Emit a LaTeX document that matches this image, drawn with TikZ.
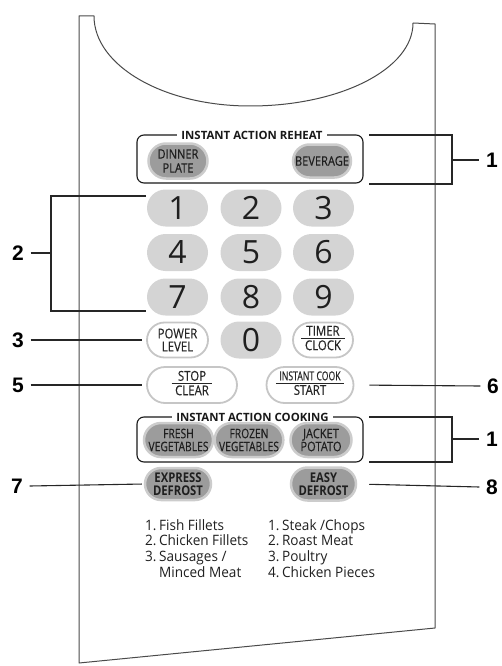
\documentclass[tikz,border=0pt]{standalone}
\usepackage{fontspec}
\setmainfont{Open Sans}
\newfontfamily\btnfont[FakeStretch=0.84,FakeBold=0.35]{Open Sans}
\newfontfamily\vegfont[FakeStretch=0.78,FakeBold=0.35]{Open Sans}
\newfontfamily\narrowfont[FakeStretch=0.7,FakeBold=0.35]{Open Sans}
\newfontfamily\boldbtn[FakeStretch=0.84]{Open Sans}
\newfontfamily\listfont[FakeStretch=0.95]{Open Sans}
\newfontfamily\labfont{Liberation Sans}
\usetikzlibrary{shapes.misc}
\definecolor{keygray}{HTML}{D4D4D4}
\definecolor{darkbtn}{HTML}{9C9C9C}
\definecolor{ringgray}{HTML}{CCCCCC}
\definecolor{whitering}{HTML}{C6C6C6}
\definecolor{outlinegray}{HTML}{4A4A4A}
\newcommand{\twoline}[2]{\begin{tabular}{@{\hspace{3.5pt}}c@{\hspace{3.5pt}}}#1\\[-1.2pt]\hline\rule{0pt}{11pt}#2\end{tabular}}
\setlength{\arrayrulewidth}{0.8pt}
\tikzset{
  numkey/.style={rounded rectangle, fill=keygray, minimum width=61, minimum height=37, inner sep=0pt, text=black!88, font=\fontsize{32}{32}\selectfont},
  whitekey/.style={rounded rectangle, fill=white, draw=whitering, line width=1.8pt, minimum height=35, inner sep=0pt, align=center, text=black!85, font=\btnfont\fontsize{13.6}{13}\selectfont},
  darkkey/.style={rounded rectangle, fill=darkbtn, draw=ringgray, line width=2.5pt, minimum height=33, inner sep=0pt, align=center, text=black!88, font=\btnfont\fontsize{13.2}{13}\selectfont},
  vegkey/.style={darkkey, font=\vegfont\fontsize{13.2}{13}\selectfont},
  boldkey/.style={darkkey, font=\boldbtn\bfseries\fontsize{13.4}{13.2}\selectfont},
  groupbox/.style={draw=black!90, line width=1.1pt, rounded corners=7pt},
  grouptitle/.style={fill=white, inner xsep=4pt, inner ysep=1pt, font=\bfseries\fontsize{11.4}{12}\selectfont, text=black!90},
  callout/.style={inner sep=0pt, inner xsep=6.5pt, font=\labfont\bfseries\fontsize{21}{21}\selectfont},
  conn/.style={draw=black!85, line width=1.1pt},
  listtext/.style={inner sep=0pt, anchor=base west, text=black!88, font=\listfont\fontsize{14.3}{15.7}\selectfont}
}
\begin{document}
\begin{tikzpicture}[x=1pt,y=-1pt]
\useasboundingbox (0,0) rectangle (501,666);
% panel outline
\draw[outlinegray, line width=1pt, line join=round] (79,16) -- (94,16)
  .. controls (94,66) and (164,106) .. (250,106)
  .. controls (340,106) and (413,69) .. (413,23)
  -- (435,24) -- (435,628) -- (79,663) -- cycle;

% instant action reheat
\draw[groupbox] (137,135) rectangle (363,183);
\node[grouptitle] (ttl1) at (252,135) {INSTANT ACTION REHEAT};
\node[darkkey, minimum width=59, minimum height=35, font=\btnfont\fontsize{13.2}{14}\selectfont] (dinner) at (178,161) {DINNER\\PLATE};
\node[darkkey, minimum width=58] (bev) at (322,161) {BEVERAGE};

% number keys
\node[numkey] (k1) at (177.5,208) {1};
\node[numkey] (k2) at (251,208) {2};
\node[numkey] (k3) at (323.5,208) {3};
\node[numkey] (k4) at (177.5,252.5) {4};
\node[numkey] (k5) at (251,252.5) {5};
\node[numkey] (k6) at (323.5,252.5) {6};
\node[numkey] (k7) at (177.5,297) {7};
\node[numkey] (k8) at (251,297) {8};
\node[numkey] (k9) at (323.5,297) {9};
\node[numkey] (k0) at (251,340) {0};

% white keys
\node[whitekey, minimum width=61] (pl) at (177.5,340) {POWER\\LEVEL};
\node[whitekey, minimum width=60] (tc) at (323,340) {\twoline{TIMER}{CLOCK}};
\node[whitekey, minimum width=90, minimum height=36] (sc) at (192,385) {\twoline{STOP}{CLEAR}};
\node[whitekey, minimum width=87, minimum height=36] (ic) at (310,385) {\twoline{{\narrowfont\fontsize{12.4}{12}\selectfont INSTANT COOK}}{START}};

% instant action cooking
\draw[groupbox] (137,417) rectangle (363,462);
\node[grouptitle] (ttl2) at (252.5,417) {INSTANT ACTION COOKING};
\node[vegkey, minimum width=69, minimum height=34] (fresh) at (178.5,440) {FRESH\\VEGETABLES};
\node[vegkey, minimum width=62, minimum height=34] (frozen) at (249,440) {FROZEN\\VEGETABLES};
\node[darkkey, minimum width=61, minimum height=34] (jacket) at (321,440) {JACKET\\POTATO};

% defrost keys
\node[boldkey, minimum width=66, minimum height=32] (ed) at (178,484) {EXPRESS\\DEFROST};
\node[boldkey, minimum width=65, minimum height=33] (ez) at (323.5,484) {EASY\\DEFROST};

% lists
\node[listtext] (listA) at (145,530) {\begin{tabular}[t]{@{}r@{\hspace{2.5pt}}l@{}}1.&Fish Fillets\\2.&Chicken Fillets\\3.&Sausages /\\&Minced Meat\end{tabular}};
\node[listtext] (listB) at (268,530) {\begin{tabular}[t]{@{}r@{\hspace{2.5pt}}l@{}}1.&Steak /Chops\\2.&Roast Meat\\3.&Poultry\\4.&Chicken Pieces\end{tabular}};

% callout labels
\node[callout] (lab1a) at (492,160) {1};
\node[callout] (lab2) at (18,253) {2};
\node[callout] (lab3) at (18,340) {3};
\node[callout] (lab5) at (18,385) {5};
\node[callout] (lab6) at (493,386) {6};
\node[callout] (lab1b) at (492,439) {1};
\node[callout] (lab7) at (17,486) {7};
\node[callout] (lab8) at (492,487) {8};

% bracket coordinates
\coordinate (b1t) at (369,135);
\coordinate (b1tr) at (452,135);
\coordinate (b1br) at (452,184);
\coordinate (b1b) at (369,184);
\coordinate (b1m) at (452,160);
\coordinate (b2t) at (369,417);
\coordinate (b2tr) at (452,417);
\coordinate (b2br) at (452,462);
\coordinate (b2b) at (369,462);
\coordinate (b2m) at (452,439);
\coordinate (k2t) at (146,196);
\coordinate (k2tl) at (51,196);
\coordinate (k2bl) at (51,311);
\coordinate (k2b) at (146,311);
\coordinate (k2m) at (51,253);

% connectors
\draw[conn] (b1t) -- (b1tr) -- (b1br) -- (b1b);
\draw[conn] (b1m) -- (lab1a.west);
\draw[conn] (b2t) -- (b2tr) -- (b2br) -- (b2b);
\draw[conn] (b2m) -- (lab1b.west);
\draw[conn] (k2t) -- (k2tl) -- (k2bl) -- (k2b);
\draw[conn] (lab2.east) -- (k2m);
\draw[conn, shorten >=4pt] (lab3.east) -- (pl.west);
\draw[conn, shorten >=4pt] (lab5.east) -- (sc.west);
\draw[conn, shorten >=15pt] (lab6.west) -- (ic.east);
\draw[conn, shorten >=2pt] (lab7.east) -- (ed.west);
\draw[conn, shorten >=12pt] (lab8.west) -- (ez.east);
\end{tikzpicture}
\end{document}
